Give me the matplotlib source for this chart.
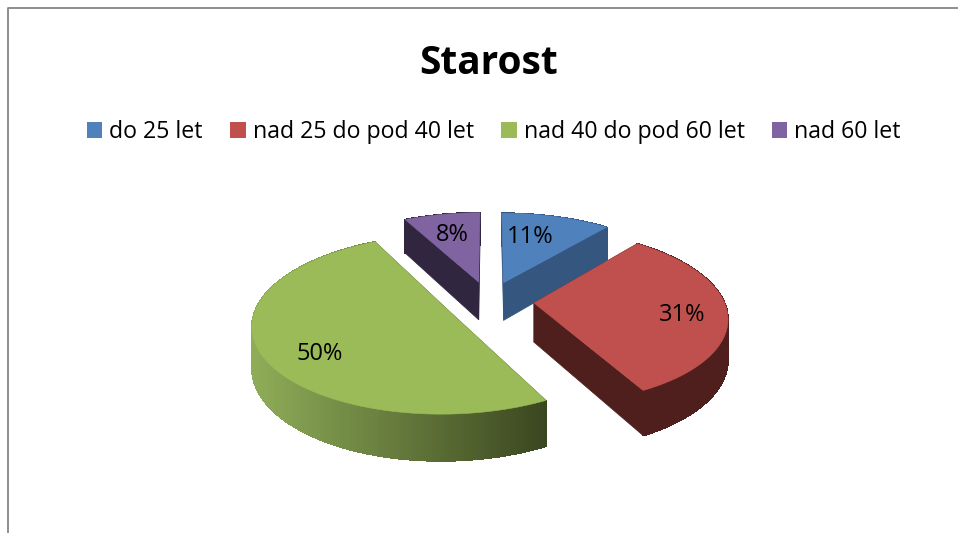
import numpy as np
import matplotlib
matplotlib.use("Agg")
import matplotlib.pyplot as plt
from matplotlib.patches import Patch, Polygon
from matplotlib.collections import PolyCollection
from matplotlib.colors import to_rgb

title = "Starost"
categories = ["do 25 let", "nad 25 do pod 40 let", "nad 40 do pod 60 let", "nad 60 let"]
values = [10.9, 31.4, 50.1, 7.6]

top_colors = ["#4F81BD", "#C0504D", "#9BBB59", "#8064A2"]
cut_colors = ["#34567F", "#4F1F1E", "#3D4A20", "#31263F"]
wall_left = ["#34567F", "#4F1F1E", "#8FAD58", "#31263F"]
wall_right = ["#34567F", "#4F1F1E", "#3B4720", "#31263F"]
label_xy = [(530, 237), (682, 315), (320, 354), (452, 235)]

# projection of the tilted pie (pixel canvas)
CX, CY, AX_, BY_, K, THICK, EXPLODE = 489.0, 301.0, 190.0, 85.0, 0.15, 39.0, 0.237

plt.rcParams["font.family"] = ["Open Sans", "DejaVu Sans"]
fig = plt.figure(figsize=(9.58, 5.33), dpi=100)
ax = fig.add_axes([0, 0, 1, 1])
ax.set_xlim(0, 958)
ax.set_ylim(533, 0)
ax.axis("off")

# chart frame (runs off the picture on the right and bottom)
ax.plot([8.5, 8.5, 958], [533, 7.5, 7.5], color="#868686", lw=1.3, solid_capstyle="butt")


def project(theta, r, mid, z=0.0):
    x = EXPLODE * np.sin(mid) + r * np.sin(theta)
    y = -EXPLODE * np.cos(mid) - r * np.cos(theta)
    w = 1 - K * y
    return CX + AX_ * x / w, CY + BY_ * y / w + z * THICK / w


def mix(a, b, t):
    a, b = np.array(to_rgb(a)), np.array(to_rgb(b))
    return tuple(a + (b - a) * t)


fractions = np.cumsum([0] + values) / sum(values) * 2 * np.pi
slices = []
for i in range(len(values)):
    slices.append((i, fractions[i], fractions[i + 1]))

for i, t0, t1 in [slices[j] for j in (3, 0, 1, 2)]:
    mid = (t0 + t1) / 2
    thetas = np.linspace(t0, t1, max(int(np.degrees(t1 - t0)), 8))
    # cut faces
    for edge in (t0, t1):
        px = [project(0, 0, mid), project(edge, 1, mid), project(edge, 1, mid, 1), project(0, 0, mid, 1)]
        ax.add_patch(Polygon(px, closed=True, fc=cut_colors[i], ec=cut_colors[i], lw=0.5, zorder=2))
    # outer wall: smooth underlay, then a shaded strip
    xt, yt = project(thetas, 1, mid)
    xb, yb = project(thetas, 1, mid, 1)
    wall = list(zip(xt, yt)) + list(zip(xb[::-1], yb[::-1]))
    ax.add_patch(Polygon(wall, closed=True, fc=mix(wall_left[i], wall_right[i], 0.5), ec="none", zorder=3))
    quads, cols = [], []
    lo, hi = xt.min(), xt.max()
    for k in range(len(thetas) - 1):
        quads.append([(xt[k], yt[k]), (xt[k + 1], yt[k + 1]), (xb[k + 1], yb[k + 1]), (xb[k], yb[k])])
        cols.append(mix(wall_left[i], wall_right[i], (xt[k] - lo) / (hi - lo)))
    ax.add_collection(PolyCollection(quads, facecolors=cols, edgecolors=cols, linewidths=0.5,
                                     antialiaseds=False, zorder=3))
    # top face
    apex = project(0, 0, mid)
    outline = [apex] + list(zip(xt, yt))
    ax.add_patch(Polygon(outline, closed=True, fc=top_colors[i], ec=top_colors[i], lw=0.4, zorder=4))
    ax.text(label_xy[i][0], label_xy[i][1], f"{values[i]:.0f}%", ha="center", va="center",
            fontsize=17, color="black", zorder=5)

ax.text(489, 64, title, ha="center", va="center", fontsize=28, fontweight="bold", color="black")

handles = [Patch(fc=c, ec="none") for c in top_colors]
ax.legend(handles, categories, ncols=4, frameon=False, fontsize=16.7,
          loc="center", bbox_to_anchor=(494 / 958, 1 - 132 / 533),
          handlelength=0.65, handleheight=0.65, handletextpad=0.3,
          columnspacing=1.2, labelcolor="black")

fig.savefig("out.png", dpi=100)
